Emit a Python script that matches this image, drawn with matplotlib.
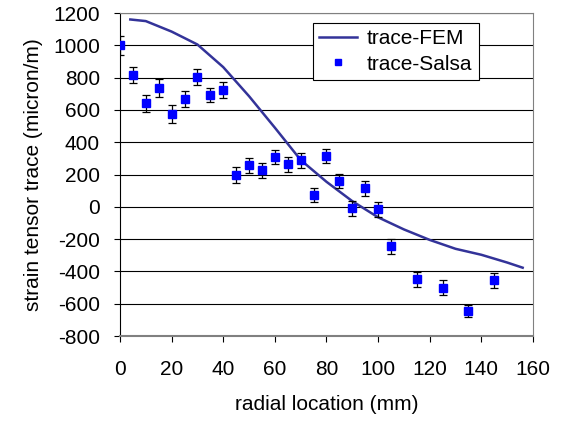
import numpy as np
import matplotlib
matplotlib.use("Agg")
import matplotlib.pyplot as plt
from matplotlib.lines import Line2D

plt.rcParams['font.family'] = ['Liberation Sans', 'DejaVu Sans']
plt.rcParams['axes.unicode_minus'] = False

# FEM curve
fem_x = [4, 10, 20, 30, 40, 50, 60, 70, 80, 90, 100, 110, 120, 130, 140, 150, 156]
fem_y = [1160, 1150, 1085, 1005, 865, 685, 490, 290, 155, 35, -65, -140, -205, -260, -297, -345, -377]

# Salsa measurements with error bars
salsa_x = [0, 5, 10, 15, 20, 25, 30, 35, 40, 45, 50, 55, 60, 65, 70, 75, 80,
           85, 90, 95, 100, 105, 115, 125, 135, 145]
salsa_y = [1000, 815, 640, 738, 575, 669, 802, 692, 721, 197, 257, 226, 308, 263, 288, 73, 315,
           160, -10, 115, -15, -245, -450, -500, -645, -455]
salsa_err = [60, 50, 50, 55, 55, 50, 50, 45, 50, 47, 45, 45, 45, 45, 45, 45, 45,
             45, 45, 45, 45, 45, 45, 45, 40, 45]

fs = 15

fig = plt.figure(figsize=(5.63, 4.24), dpi=100)
ax = fig.add_axes([0.2131, 0.2075, 0.7336, 0.7618])

ax.plot(fem_x, fem_y, color='#333399', lw=1.8, zorder=3)
ax.errorbar(salsa_x, salsa_y, yerr=salsa_err, fmt='s', color='#0000ff', ms=5.8,
            ecolor='black', elinewidth=0.9, capsize=3, capthick=0.9, zorder=4)

ax.set_xlim(0, 160)
ax.set_ylim(-800, 1200)
ax.set_xticks(np.arange(0, 161, 20))
ax.set_yticks(np.arange(-800, 1201, 200))
ax.yaxis.grid(True, color='black', lw=0.8)
ax.set_axisbelow(True)

for s in ['top', 'right']:
    ax.spines[s].set_color('#808080')
ax.spines['left'].set_color('black')
ax.spines['bottom'].set_color('#808080')
ax.spines['bottom'].set_linewidth(1.5)
ax.tick_params(direction='out', length=4.5, width=0.8, labelsize=fs)
ax.tick_params(axis='y', pad=10)
ax.tick_params(axis='x', pad=13)

ax.set_xlabel('radial location (mm)', fontsize=fs, labelpad=11)
ax.set_ylabel('strain tensor trace (micron/m)', fontsize=fs, labelpad=7)

handles = [Line2D([], [], color='#333399', lw=1.8),
           Line2D([], [], ls='none', marker='s', color='#0000ff', ms=4.5)]
leg = ax.legend(handles, ['trace-FEM', 'trace-Salsa'], loc='upper left',
                bbox_to_anchor=(0.467, 0.969), borderaxespad=0,
                fontsize=fs, frameon=True, fancybox=False, edgecolor='black',
                framealpha=1, borderpad=0.3, handlelength=1.8, handletextpad=0.5,
                labelspacing=0.3)
leg.get_frame().set_linewidth(0.8)

fig.savefig('out.png', dpi=100)
